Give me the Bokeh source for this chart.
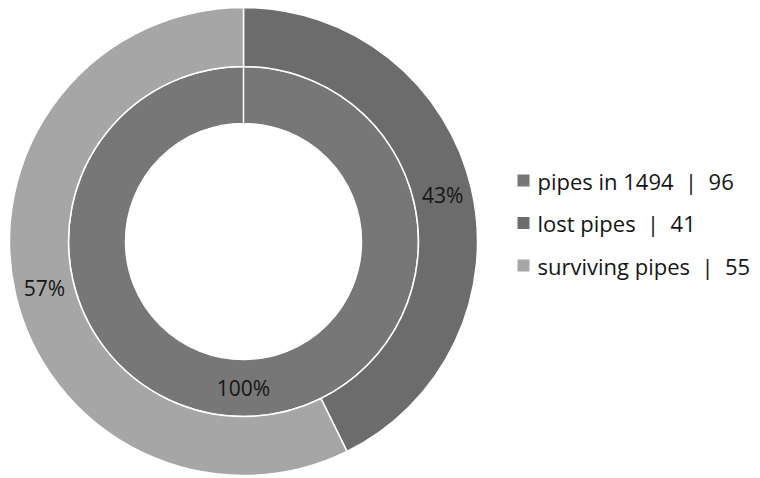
import numpy as np
from bokeh.plotting import figure
from bokeh.models import Range1d, ColumnDataSource
from bokeh.core.properties import value
from bokeh.embed import file_html
from bokeh.resources import INLINE

# ---- data ----
inner_labels = ["pipes in 1494"]
inner_values = [96]
outer_labels = ["lost pipes", "surviving pipes"]
outer_values = [41, 55]
inner_colors = ["#777777"]
outer_colors = ["#6c6c6c", "#a6a6a6"]

W, H = 760, 478
p = figure(width=W, height=H, output_backend="svg", toolbar_location=None,
           x_range=Range1d(0, W), y_range=Range1d(0, H), min_border=0)
p.axis.visible = False
p.grid.visible = False
p.outline_line_color = None
p.background_fill_color = "white"

cx, cy = 243, H - 241
r_hole, r_mid, r_out = 118, 175, 234
FONT = value("Open Sans")


def ring(values, colors, r0, r1):
    vals = np.array(values, dtype=float)
    frac = vals / vals.sum()
    cum = np.concatenate([[0], np.cumsum(frac)])
    start = np.pi / 2 - cum[1:] * 2 * np.pi
    end = np.pi / 2 - cum[:-1] * 2 * np.pi
    src = ColumnDataSource(dict(start=start, end=end, color=colors))
    p.annular_wedge(x=cx, y=cy, inner_radius=r0, outer_radius=r1,
                    start_angle="start", end_angle="end", fill_color="color",
                    line_color="white", line_width=1.5, source=src)
    mid = (start + end) / 2
    rm = (r0 + r1) / 2
    pct = [f"{round(f * 100)}%" for f in frac]
    lsrc = ColumnDataSource(dict(x=cx + rm * np.cos(mid), y=cy + rm * np.sin(mid), t=pct))
    p.text(x="x", y="y", text="t", source=lsrc, text_align="center",
           text_baseline="middle", text_font=FONT, text_font_size="21px",
           text_color="#151515")


ring(inner_values, inner_colors, r_hole, r_mid)
ring(outer_values, outer_colors, r_mid, r_out)

# ---- legend ----
leg_names = inner_labels + outer_labels
leg_vals = inner_values + outer_values
leg_colors = inner_colors + outer_colors
leg_x = 523
leg_y0 = H - 180
leg_dy = 42.5
ys = [leg_y0 - i * leg_dy for i in range(len(leg_names))]
sp = "\u00a0\u00a0"
p.scatter(x=[leg_x] * len(ys), y=ys, marker="square", size=12,
          fill_color=leg_colors, line_color=None)
p.text(x=[leg_x + 14] * len(ys), y=ys,
       text=[f"{n}{sp}|{sp}{v}" for n, v in zip(leg_names, leg_vals)],
       text_align="left", text_baseline="middle", text_font=FONT,
       text_font_size="22px", text_color="#151515")

open("out.html", "w").write(file_html(p, INLINE))
